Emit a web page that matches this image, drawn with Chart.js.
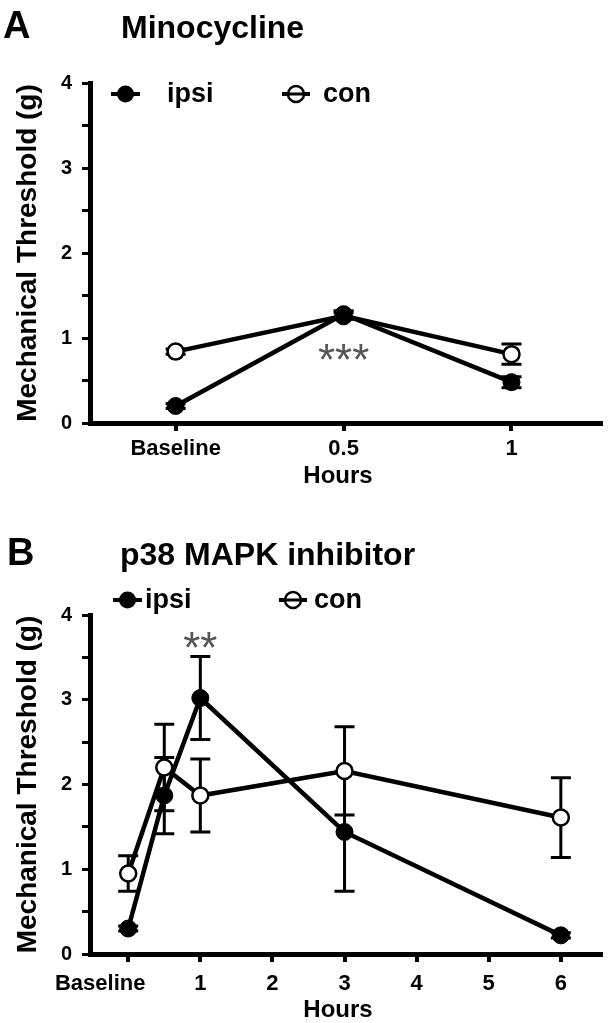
<!DOCTYPE html>
<html lang="en">
<head>
<meta charset="UTF-8" />
<title>Mechanical threshold - Minocycline / p38 MAPK inhibitor</title>
<style>
  body { margin: 0; background: #fff; width: 611px; height: 1023px; position: relative; overflow: hidden; }
  canvas { position: absolute; left: 0; }
  #chartA { top: 0; }
  #chartB { top: 510px; }
</style>
<script src="https://cdn.jsdelivr.net/npm/chart.js"></script>
</head>
<body>
<canvas id="chartA" width="611" height="510"></canvas>
<canvas id="chartB" width="611" height="513"></canvas>
<script>
// Panel A - Minocycline
const categoriesA = ["Baseline", "0.5", "1"];
const ipsiA = [0.2, 1.28, 0.48];
const ipsiErrA = [0.03, 0.04, 0.065];
const conA = [0.84, 1.26, 0.81];
const conErrA = [0.03, 0.04, 0.12];

// Panel B - p38 MAPK inhibitor
const hoursB = [0, 0.5, 1, 3, 6];
const ipsiB = [0.3, 1.87, 3.02, 1.44, 0.22];
const ipsiErrB = [0.03, 0.45, 0.49, 0.7, 0.03];
const conB = [0.95, 2.2, 1.87, 2.16, 1.61];
const conErrB = [0.21, 0.51, 0.43, 0.52, 0.47];
const tickHoursB = [0, 1, 2, 3, 4, 5, 6];
const tickLabelsB = ["Baseline", "1", "2", "3", "4", "5", "6"];

const FONT = '"Liberation Sans", Arial, sans-serif';
const X_TICK_SIZE = 22;
Chart.defaults.font.family = FONT;
Chart.defaults.font.weight = "bold";
Chart.defaults.color = "#000";

function series(label, xs, ys, errs, filled) {
    return {
        label: label,
        data: xs.map((x, i) => ({ x: x, y: ys[i] })),
        errors: errs,
        filled: filled,
        borderColor: "#000",
        borderWidth: 4.5,
        tension: 0,
        fill: false,
        pointRadius: filled ? 8.5 : 8,
        pointHoverRadius: filled ? 8.5 : 8,
        pointBackgroundColor: filled ? "#000" : "#fff",
        pointBorderColor: "#000",
        pointBorderWidth: filled ? 1 : 2.5,
    };
}

// vertical error bars, drawn under the markers
const errorBars = {
    id: "errorBars",
    beforeDatasetsDraw(chart) {
        const { ctx, scales } = chart;
        ctx.save();
        ctx.strokeStyle = "#000";
        ctx.lineWidth = 3;
        chart.data.datasets.forEach((ds) => {
            ds.data.forEach((p, i) => {
                const e = ds.errors[i];
                const px = scales.x.getPixelForValue(p.x);
                const top = scales.y.getPixelForValue(p.y + e);
                const bot = scales.y.getPixelForValue(p.y - e);
                ctx.beginPath();
                ctx.moveTo(px, top);
                ctx.lineTo(px, bot);
                ctx.moveTo(px - 10, top);
                ctx.lineTo(px + 10, top);
                ctx.moveTo(px - 10, bot);
                ctx.lineTo(px + 10, bot);
                ctx.stroke();
            });
        });
        ctx.restore();
    },
};

// panel letter, title, legend, x title, significance marks
const decorations = {
    id: "decorations",
    afterDraw(chart, args, o) {
        const { ctx, scales } = chart;
        ctx.save();
        ctx.fillStyle = "#000";
        ctx.textBaseline = "alphabetic";
        ctx.textAlign = "left";
        ctx.font = "bold 38px " + FONT;
        ctx.fillText(o.letter, o.letterX, o.titleY);
        ctx.font = "bold 32px " + FONT;
        ctx.fillText(o.title, o.titleX, o.titleY);

        o.legend.forEach((it, k) => {
            const ds = chart.data.datasets[k];
            const cx = (it.x0 + it.x1) / 2;
            ctx.strokeStyle = "#000";
            ctx.lineWidth = 4;
            ctx.beginPath();
            ctx.moveTo(it.x0, it.y);
            ctx.lineTo(it.x1, it.y);
            ctx.stroke();
            ctx.beginPath();
            ctx.arc(cx, it.y, ds.filled ? 8.5 : 8, 0, Math.PI * 2);
            if (ds.filled) {
                ctx.fill();
            } else {
                ctx.fillStyle = "#fff";
                ctx.fill();
                ctx.lineWidth = 2.5;
                ctx.stroke();
                ctx.fillStyle = "#000";
                ctx.lineWidth = 3;
                ctx.beginPath();
                ctx.moveTo(it.x0, it.y);
                ctx.lineTo(it.x1, it.y);
                ctx.stroke();
            }
            ctx.font = "bold 27px " + FONT;
            ctx.fillText(ds.label, it.textX, it.y + 8);
        });

        // x axis title
        ctx.textAlign = "center";
        ctx.textBaseline = "middle";
        ctx.font = "bold 24px " + FONT;
        ctx.fillText(o.xTitle, o.xTitleX, o.xTitleY);

        if (o.shiftLabel) {
            const sx = scales.x;
            ctx.font = "bold " + X_TICK_SIZE + "px " + FONT;
            const ly = sx.top + 8 + sx.options.ticks.padding + (X_TICK_SIZE * 1.2) / 2;
            ctx.fillText(o.shiftLabel.text, sx.getPixelForValue(o.shiftLabel.value) + o.shiftLabel.dx, ly);
        }

        ctx.fillStyle = "#555";
        ctx.textBaseline = "alphabetic";
        ctx.font = "normal 44px " + FONT;
        o.stars.forEach((s) => {
            const px = scales.x.getPixelForValue(s.x);
            const py = scales.y.getPixelForValue(s.y);
            ctx.fillText(s.text, px, py + 0.585 * 44);
        });
        ctx.restore();
    },
};

function makeChart(id, cfg) {
    return new Chart(document.getElementById(id), {
        type: "line",
        data: { datasets: cfg.datasets },
        plugins: [errorBars, decorations],
        options: {
            responsive: false,
            animation: false,
            events: [],
            layout: { padding: { top: cfg.top, right: 4, left: 0, bottom: 0 } },
            scales: {
                x: {
                    type: "linear",
                    min: cfg.xMin,
                    max: cfg.xMax,
                    afterBuildTicks: (s) => {
                        s.ticks = cfg.tickValues.map((v) => ({ value: v }));
                    },
                    afterFit: (s) => {
                        s.height = cfg.xHeight;
                    },
                    grid: {
                        drawOnChartArea: false,
                        tickLength: 8,
                        lineWidth: 4,
                        tickWidth: 4,
                        color: "#000",
                    },
                    border: { width: 5, color: "#000" },
                    ticks: {
                        autoSkip: false,
                        maxRotation: 0,
                        padding: cfg.xPad,
                        font: { size: X_TICK_SIZE, weight: "bold" },
                        color: cfg.xTickColor || "#000",
                        callback: (v, i) => cfg.tickLabels[i],
                    },
                },
                y: {
                    min: 0,
                    max: 4,
                    afterFit: (s) => {
                        s.width = 90;
                    },
                    grid: {
                        drawOnChartArea: false,
                        tickLength: 8,
                        lineWidth: 3,
                        tickWidth: 3,
                        color: "#000",
                    },
                    border: { width: 5, color: "#000" },
                    ticks: {
                        stepSize: 0.5,
                        padding: 10,
                        font: { size: 20, weight: "bold" },
                        callback: (v) => (Number.isInteger(v) ? String(v) : ""),
                    },
                    title: {
                        display: true,
                        text: "Mechanical Threshold (g)",
                        font: { size: 28, weight: "bold" },
                        padding: { top: 11, bottom: 0 },
                    },
                },
            },
            plugins: {
                legend: { display: false },
                tooltip: { enabled: false },
                decorations: cfg.decorations,
            },
        },
    });
}

const idxA = categoriesA.map((c, i) => i);

makeChart("chartA", {
    top: 83,
    xMin: -0.51,
    xMax: 2.53,
    xHeight: 87,
    xPad: 5,
    tickValues: idxA,
    tickLabels: categoriesA,
    datasets: [
        series("ipsi", idxA, ipsiA, ipsiErrA, true),
        series("con", idxA, conA, conErrA, false),
    ],
    decorations: {
        letter: "A",
        letterX: 3,
        title: "Minocycline",
        titleX: 121,
        titleY: 38,
        xTitle: "Hours",
        xTitleX: 338,
        xTitleY: 476,
        legend: [
            { x0: 111, x1: 140, y: 94, textX: 167 },
            { x0: 282, x1: 310, y: 94, textX: 323 },
        ],
        stars: [{ x: 1, y: 0.87, text: "***" }],
    },
});

makeChart("chartB", {
    top: 105,
    xMin: -0.53,
    xMax: 6.55,
    xHeight: 69,
    xPad: 9,
    tickValues: tickHoursB,
    tickLabels: tickLabelsB,
    xTickColor: (c) => (c.tick && c.tick.value === 0 ? "rgba(0,0,0,0)" : "#000"),
    datasets: [
        series("ipsi", hoursB, ipsiB, ipsiErrB, true),
        series("con", hoursB, conB, conErrB, false),
    ],
    decorations: {
        letter: "B",
        letterX: 7,
        title: "p38 MAPK inhibitor",
        titleX: 120,
        titleY: 55,
        xTitle: "Hours",
        xTitleX: 338,
        xTitleY: 500,
        legend: [
            { x0: 113, x1: 142, y: 90, textX: 145 },
            { x0: 279, x1: 307, y: 90, textX: 314 },
        ],
        stars: [{ x: 1, y: 3.74, text: "**" }],
        shiftLabel: { value: 0, text: tickLabelsB[0], dx: -28 },
    },
});
</script>
</body>
</html>
